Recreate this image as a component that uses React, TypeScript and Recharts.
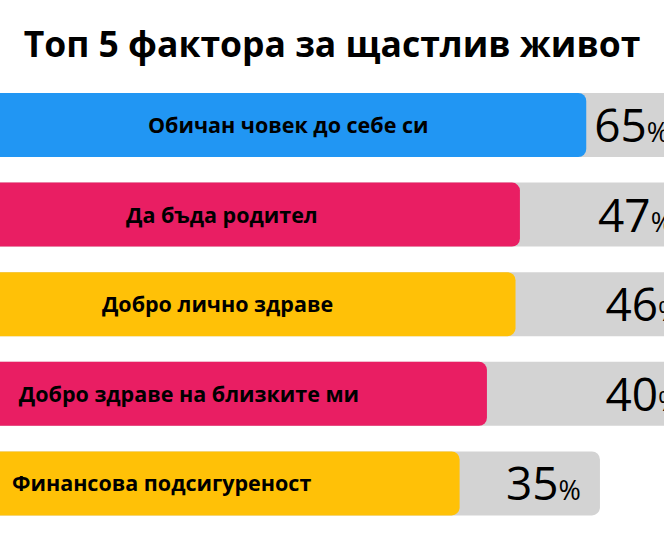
import React from "react";
import { Bar, BarChart, LabelList, XAxis, YAxis } from "recharts";

const factors = [
  "Обичан човек до себе си",
  "Да бъда родител",
  "Добро лично здраве",
  "Добро здраве на близките ми",
  "Финансова подсигуреност",
];
const shares = [65, 47, 46, 40, 35];
const barColors = ["#2196F3", "#E91E63", "#FFC107", "#E91E63", "#FFC107"];
// where each grey track ends, on the same axis as the shares
const trackEnds = [107, 109, 113, 113, 69.5];

const TRACK_COLOR = "#D3D3D3";
const FONT = "'Open Sans', 'Noto Sans', sans-serif";

const data = factors.map((factor, i) => ({
  factor,
  share: shares[i],
  track: trackEnds[i],
  color: barColors[i],
}));

function FactorLabel(props: any) {
  const { x, y, width, height, value } = props;
  return (
    <text
      x={x + width - 298}
      y={y + height / 2 + 8}
      textAnchor="middle"
      fontFamily={FONT}
      fontWeight={700}
      fontSize={21.5}
      fill="#000"
    >
      {value}
    </text>
  );
}

function ShareLabel(props: any) {
  const { x, y, width, height, value } = props;
  return (
    <text
      x={x + width - 19}
      y={y + height / 2 + 17}
      textAnchor="end"
      fontFamily={FONT}
      fill="#000"
    >
      <tspan fontSize={46}>{value}</tspan>
      <tspan fontSize={27}>%</tspan>
    </text>
  );
}

export default function App() {
  return (
    <div
      style={{
        position: "absolute",
        left: 0,
        top: 0,
        width: 664,
        height: 550,
        overflow: "hidden",
        background: "#fff",
      }}
    >
      <div
        style={{
          height: 80,
          lineHeight: "86px",
          textAlign: "center",
          fontFamily: FONT,
          fontWeight: 700,
          fontSize: 35.5,
          color: "#000",
        }}
      >
        Топ 5 фактора за щастлив живот
      </div>
      <BarChart
        width={720}
        height={470}
        data={data}
        layout="vertical"
        margin={{ top: 0, right: 0, bottom: 22, left: 0 }}
        barSize={64}
      >
        <XAxis type="number" scale="log" domain={[3.7, 125]} allowDataOverflow hide />
        <YAxis yAxisId="track" type="category" dataKey="factor" hide />
        <YAxis yAxisId="main" type="category" dataKey="factor" hide />
        <Bar
          yAxisId="track"
          dataKey="track"
          fill={TRACK_COLOR}
          radius={[0, 8, 8, 0]}
          isAnimationActive={false}
        >
          <LabelList dataKey="share" content={<ShareLabel />} />
        </Bar>
        <Bar
          yAxisId="main"
          dataKey="share"
          radius={[0, 8, 8, 0]}
          isAnimationActive={false}
          shape={(p: any) => (
            <path
              d={`M${p.x},${p.y} h${p.width - 8} a8,8 0 0 1 8,8 v${p.height - 16} a8,8 0 0 1 -8,8 h${-(p.width - 8)} Z`}
              fill={p.payload.color}
            />
          )}
        >
          <LabelList dataKey="factor" content={<FactorLabel />} />
        </Bar>
      </BarChart>
    </div>
  );
}
